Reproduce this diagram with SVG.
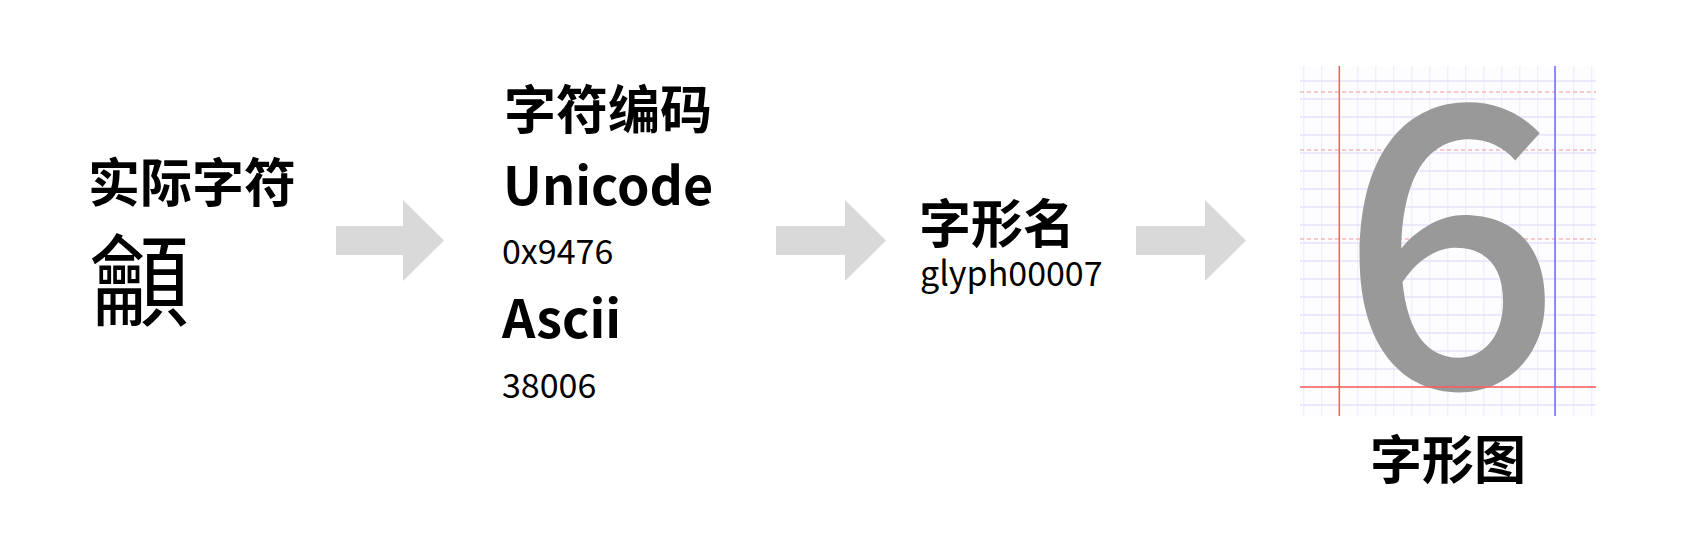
<svg xmlns="http://www.w3.org/2000/svg" width="1702" height="536" viewBox="0 0 1702 536">
<style>
.t{font-family:"Noto Sans CJK SC","Noto Sans",sans-serif;fill:#000}
.h{font-size:52px;font-weight:700}
.b{font-size:52px;font-weight:700}
.s{font-size:34px;font-weight:400}
.arrow{fill:#d9d9d9}
.g{stroke:#e4e4fb;stroke-width:1.5;fill:none}
.dash{stroke:#f6b8b8;stroke-width:1.5;stroke-dasharray:4 3;fill:none}
</style>
<defs>
<pattern id="gv" x="1303.3" y="0" width="18" height="18" patternUnits="userSpaceOnUse">
<line x1="0" y1="0" x2="0" y2="18" stroke="#e4e4fb" stroke-width="1.5"/>
</pattern>
</defs>
<rect width="1702" height="536" fill="#fff"/>
<g id="connectors">
<polygon class="arrow" points="336,226 403,226 403,200 444,240.5 403,281 403,255 336,255"/>
<polygon class="arrow" points="776,226 845,226 845,200 886,240.5 845,281 845,255 776,255"/>
<polygon class="arrow" points="1136,226 1205,226 1205,200 1246,240.5 1205,281 1205,255 1136,255"/>
</g>
<g id="node-char">
<text class="t h" x="88" y="202">实际字符</text>
<text class="t" x="89" y="318" font-size="100">龥</text>
</g>
<g id="node-encoding">
<text class="t h" x="504" y="129">字符编码</text>
<text class="t b" x="503" y="205">Unicode</text>
<text class="t s" x="502" y="264">0x9476</text>
<text class="t b" x="502" y="338">Ascii</text>
<text class="t s" x="502" y="398">38006</text>
</g>
<g id="node-glyphname">
<text class="t h" x="919" y="243">字形名</text>
<text class="t s" x="920" y="286">glyph00007</text>
</g>
<g id="node-glyph">
<rect x="1300" y="66" width="296" height="350" fill="#fdfdff"/>
<rect x="1300" y="66" width="296" height="350" fill="url(#gv)"/>
<path class="g" d="M1300 81H1596M1300 99H1596M1300 117H1596M1300 135H1596M1300 153H1596M1300 171H1596M1300 189H1596M1300 207H1596M1300 225H1596M1300 243H1596M1300 261H1596M1300 279H1596M1300 297H1596M1300 315H1596M1300 333H1596M1300 351H1596M1300 369H1596M1300 387H1596M1300 405H1596"/>
<path class="dash" d="M1300 92H1596M1300 150H1596M1300 239H1596"/>
<text class="t" x="1339.3" y="387" font-size="390" font-weight="500" style="fill:#999999">6</text>
<line x1="1300" y1="387" x2="1596" y2="387" stroke="#ff5a5a" stroke-width="1.5"/>
<line x1="1339.3" y1="66" x2="1339.3" y2="416" stroke="#ff5a5a" stroke-width="1.5"/>
<line x1="1555" y1="66" x2="1555" y2="416" stroke="#6a6aff" stroke-width="1.5"/>
<text class="t h" x="1370" y="479">字形图</text>
</g>
</svg>
